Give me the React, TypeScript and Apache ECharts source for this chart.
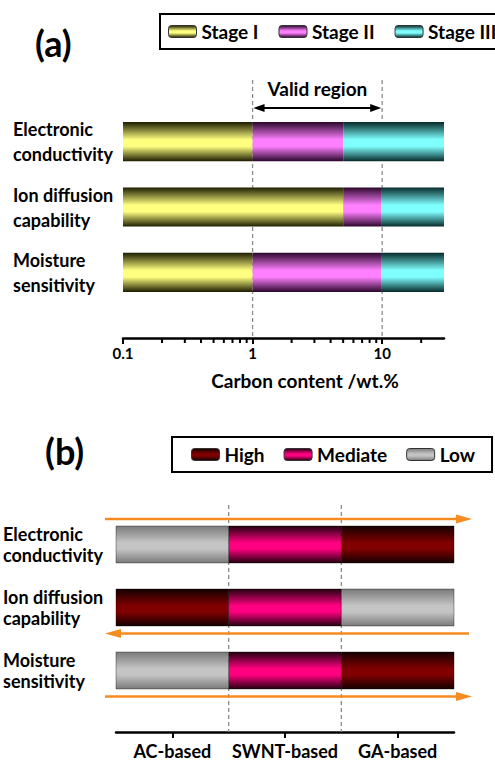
import React, { useEffect, useRef } from 'react';
import * as echarts from 'echarts';

// ---------- panel (a) data ----------
const properties = ['Electronic\nconductivity', 'Ion diffusion\ncapability', 'Moisture\nsensitivity'];
const stageNames = ['Stage I', 'Stage II', 'Stage III'];
const carbonMin = 0.1;
const carbonMax = 30;
const stageIEnd = [1, 5, 1];
const stageIIEnd = [5, 9.8, 9.8];
const validRegion = [1, 10];
const minorTicks = [0.2, 0.3, 0.4, 0.5, 0.6, 0.7, 0.8, 0.9, 2, 3, 4, 5, 6, 7, 8, 9, 20];

// ---------- panel (b) data ----------
const materials = ['AC-based', 'SWNT-based', 'GA-based'];
const levelNames = ['High', 'Mediate', 'Low'];
const electronicLevels = ['Low', 'Mediate', 'High'];
const ionLevels = ['High', 'Mediate', 'Low'];
const moistureLevels = ['Low', 'Mediate', 'High'];
const arrowDirections = ['right', 'left', 'right'];
const arrowSides = ['above', 'below', 'below'];

const FONT = 'Lato';

const vgrad = (edge: string, mid: string) =>
  new echarts.graphic.LinearGradient(0, 0, 0, 1, [
    { offset: 0, color: edge },
    { offset: 0.45, color: mid },
    { offset: 0.62, color: mid },
    { offset: 1, color: edge },
  ]);

const stageFills = [vgrad('#1c1c00', '#ffff80'), vgrad('#2a062a', '#ff80ff'), vgrad('#062a2a', '#80ffff')];
const levelFills: Record<string, any> = {
  High: vgrad('#140000', '#800000'),
  Mediate: vgrad('#22000f', '#ff0080'),
  Low: vgrad('#7a7a7a', '#c4c4c4'),
};

export default function App() {
  const ref = useRef<HTMLDivElement>(null);

  useEffect(() => {
    if (!ref.current) return;
    const chart = echarts.init(ref.current, undefined, { renderer: 'svg' });

    const stageData = [
      properties.map((_, i) => [carbonMin, stageIEnd[i], i]),
      properties.map((_, i) => [stageIEnd[i], stageIIEnd[i], i]),
      properties.map((_, i) => [stageIIEnd[i], carbonMax, i]),
    ];
    const levelRows = [electronicLevels, ionLevels, moistureLevels];
    const levelData = (name: string) => {
      const out: number[][] = [];
      levelRows.forEach((row, r) => row.forEach((lv, c) => { if (lv === name) out.push([c, r]); }));
      return out;
    };

    const AX_OFF_A = 33;
    const AX_OFF_B = 30;
    const dash = { stroke: '#8c8c8c', lineWidth: 1.3, lineDash: [4, 3] };
    const txt = { fontFamily: FONT, fontWeight: 'bold' as const, color: '#000' };

    const stageSeries = stageNames.map((name, s) => ({
      type: 'custom',
      name,
      xAxisIndex: 0,
      yAxisIndex: 0,
      z: 3,
      silent: true,
      itemStyle: { color: stageFills[s] },
      data: stageData[s],
      encode: { x: [0, 1], y: 2 },
      renderItem: (params: any, api: any) => {
        const cs = params.coordSys;
        const row = api.value(2);
        const a = api.coord([api.value(0), row]);
        const b = api.coord([api.value(1), row]);
        const h = (cs.height / properties.length) * 0.6;
        return {
          type: 'rect',
          shape: { x: a[0], y: a[1] - h / 2, width: b[0] - a[0], height: h },
          style: { fill: stageFills[s] },
        };
      },
    }));

    const levelSeries = levelNames.map((name) => ({
      type: 'custom',
      name,
      xAxisIndex: 1,
      yAxisIndex: 1,
      z: 3,
      silent: true,
      itemStyle: { color: levelFills[name] },
      data: levelData(name),
      encode: { x: 0, y: 1 },
      renderItem: (params: any, api: any) => {
        const p = api.coord([api.value(0), api.value(1)]);
        const s = api.size([1, 1]);
        const h = s[1] * 0.587;
        return {
          type: 'rect',
          shape: { x: p[0] - s[0] / 2, y: p[1] - h / 2, width: s[0], height: h },
          style: { fill: levelFills[name], stroke: 'rgba(0,0,0,0.45)', lineWidth: 0.8 },
        };
      },
    }));

    const option: any = {
      animation: false,
      backgroundColor: '#fff',
      title: [
        { text: '(a)', left: 30, top: 20, textStyle: { ...txt, fontSize: 36 } },
        { text: '(b)', left: 40, top: 428, textStyle: { ...txt, fontSize: 36 } },
      ],
      legend: [
        {
          data: stageNames,
          left: 160,
          top: 14,
          width: 400,
          padding: [8, 20, 8, 8],
          itemGap: 20,
          itemWidth: 28,
          itemHeight: 12,
          borderColor: '#000',
          borderWidth: 2,
          selectedMode: false,
          itemStyle: { borderColor: '#333', borderWidth: 1 },
          textStyle: { ...txt, fontSize: 19 },
        },
        {
          data: levelNames,
          left: 172,
          top: 437,
          padding: [8, 17, 8, 19],
          itemGap: 19,
          itemWidth: 28,
          itemHeight: 12,
          borderColor: '#000',
          borderWidth: 2,
          selectedMode: false,
          itemStyle: { borderColor: '#333', borderWidth: 1 },
          textStyle: { ...txt, fontSize: 19 },
        },
      ],
      grid: [
        { left: 123, width: 321, top: 109, height: 196 },
        { left: 116, width: 338, top: 513, height: 189 },
      ],
      xAxis: [
        {
          gridIndex: 0,
          type: 'log',
          logBase: 10,
          min: carbonMin,
          max: carbonMax,
          offset: AX_OFF_A,
          axisLine: { show: true, onZero: false, lineStyle: { color: '#000', width: 2.5 } },
          axisTick: { show: true, inside: false, length: 6, lineStyle: { color: '#000', width: 2 } },
          axisLabel: { ...txt, fontSize: 15, margin: 7, showMaxLabel: false },
          splitLine: { show: false },
          name: 'Carbon content /wt.%',
          nameLocation: 'middle',
          nameGap: 33,
          nameTextStyle: { ...txt, fontSize: 19, padding: [0, 0, 0, 43] },
        },
        {
          gridIndex: 1,
          type: 'category',
          data: materials,
          offset: AX_OFF_B,
          axisLine: { show: true, onZero: false, lineStyle: { color: '#000', width: 2.5 } },
          axisTick: { show: true, alignWithLabel: true, length: 6, lineStyle: { color: '#000', width: 2 } },
          axisLabel: { ...txt, fontSize: 18, margin: 10, interval: 0 },
          splitLine: { show: false },
        },
      ],
      yAxis: [
        {
          gridIndex: 0,
          type: 'category',
          inverse: true,
          data: properties,
          axisLine: { show: false },
          axisTick: { show: false },
          axisLabel: { ...txt, fontSize: 18, align: 'left', margin: 110, lineHeight: 25 },
        },
        {
          gridIndex: 1,
          type: 'category',
          inverse: true,
          data: properties,
          axisLine: { show: false },
          axisTick: { show: false },
          axisLabel: { ...txt, fontSize: 18, align: 'left', margin: 113, lineHeight: 21 },
        },
      ],
      series: [
        {
          type: 'custom',
          name: 'valid-region',
          xAxisIndex: 0,
          yAxisIndex: 0,
          z: 1,
          silent: true,
          data: [[validRegion[0], validRegion[1], 0]],
          encode: { x: [0, 1], y: 2 },
          renderItem: (params: any, api: any) => {
            const cs = params.coordSys;
            const x1 = api.coord([api.value(0), 0])[0];
            const x2 = api.coord([api.value(1), 0])[0];
            const top = cs.y - 29;
            const bottom = cs.y + cs.height + AX_OFF_A;
            const ay = cs.y - 1;
            return {
              type: 'group',
              children: [
                { type: 'line', shape: { x1, y1: top, x2: x1, y2: bottom }, style: dash },
                { type: 'line', shape: { x1: x2, y1: top, x2, y2: bottom }, style: dash },
                { type: 'line', shape: { x1: x1 + 8, y1: ay, x2: x2 - 8, y2: ay }, style: { stroke: '#000', lineWidth: 2 } },
                { type: 'polygon', shape: { points: [[x1 + 1, ay], [x1 + 12, ay - 4], [x1 + 12, ay + 4]] }, style: { fill: '#000' } },
                { type: 'polygon', shape: { points: [[x2 - 1, ay], [x2 - 12, ay - 4], [x2 - 12, ay + 4]] }, style: { fill: '#000' } },
                {
                  type: 'text',
                  x: (x1 + x2) / 2,
                  y: cs.y - 21,
                  style: { text: 'Valid region', fontSize: 19, fontWeight: 'bold', fontFamily: FONT, fill: '#000', align: 'center', verticalAlign: 'middle' },
                },
              ],
            };
          },
        },
        {
          type: 'custom',
          name: 'minor-ticks',
          xAxisIndex: 0,
          yAxisIndex: 0,
          z: 4,
          silent: true,
          data: minorTicks.map((v) => [v, 0]),
          encode: { x: 0, y: 1 },
          renderItem: (params: any, api: any) => {
            const cs = params.coordSys;
            const x = api.coord([api.value(0), 0])[0];
            const y = cs.y + cs.height + AX_OFF_A;
            return { type: 'line', shape: { x1: x, y1: y, x2: x, y2: y + 5 }, style: { stroke: '#000', lineWidth: 2 } };
          },
        },
        ...stageSeries,
        {
          type: 'custom',
          name: 'guides-b',
          xAxisIndex: 1,
          yAxisIndex: 1,
          z: 1,
          silent: true,
          data: [[0, 0]],
          encode: { x: 0, y: 1 },
          renderItem: (params: any, api: any) => {
            const cs = params.coordSys;
            const children: any[] = [];
            for (let i = 1; i < materials.length; i++) {
              const x = (api.coord([i - 1, 0])[0] + api.coord([i, 0])[0]) / 2;
              children.push({ type: 'line', shape: { x1: x, y1: cs.y - 8, x2: x, y2: cs.y + cs.height + AX_OFF_B }, style: dash });
            }
            const barH = (cs.height / properties.length) * 0.587;
            const xL = cs.x - 11;
            const xR = cs.x + cs.width + 18;
            const orange = '#f68b1f';
            arrowDirections.forEach((dir, row) => {
              const cy = api.coord([0, row])[1];
              const y = arrowSides[row] === 'above' ? cy - barH / 2 - 7 : cy + barH / 2 + 7.5;
              if (dir === 'right') {
                children.push({ type: 'line', shape: { x1: xL, y1: y, x2: xR - 10, y2: y }, style: { stroke: orange, lineWidth: 2.5 } });
                children.push({ type: 'polygon', shape: { points: [[xR, y], [xR - 16, y - 4.5], [xR - 16, y + 4.5]] }, style: { fill: orange } });
              } else {
                const xr = xR - 3;
                children.push({ type: 'line', shape: { x1: xL + 10, y1: y, x2: xr, y2: y }, style: { stroke: orange, lineWidth: 2.5 } });
                children.push({ type: 'polygon', shape: { points: [[xL, y], [xL + 16, y - 4.5], [xL + 16, y + 4.5]] }, style: { fill: orange } });
              }
            });
            return { type: 'group', children };
          },
        },
        ...levelSeries,
      ],
    };

    chart.setOption(option);
    return () => chart.dispose();
  }, []);

  return <div ref={ref} style={{ position: 'absolute', left: 0, top: 0, width: 495, height: 762 }} />;
}
